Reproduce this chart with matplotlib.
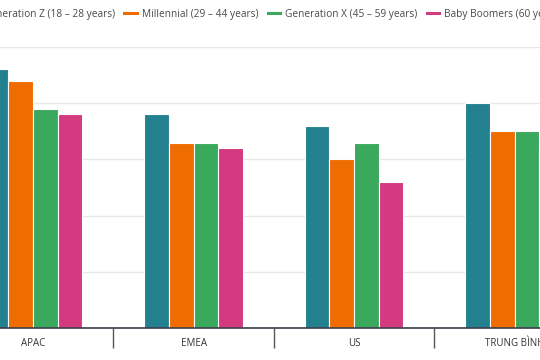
import matplotlib
matplotlib.use("Agg")
import matplotlib.pyplot as plt
from matplotlib.lines import Line2D
import numpy as np

plt.rcParams['font.family'] = ['Open Sans', 'DejaVu Sans']

categories = ["APAC", "EMEA", "US", "TRUNG BÌNH"]
series_names = ["Generation Z (18 – 28 years)", "Millennial (29 – 44 years)",
                "Generation X (45 – 59 years)", "Baby Boomers (60 years+)"]
gen_z = [46, 38, 36, 40]
millennial = [44, 33, 30, 35]
gen_x = [39, 33, 33, 35]
boomers = [38, 32, 26, 32]
colors = ["#23808F", "#EF6C00", "#3AA85D", "#D43A80"]

values = [gen_z, millennial, gen_x, boomers]

fig = plt.figure(figsize=(5.4, 3.6), dpi=100)
ax = fig.add_axes([0, 32/360, 1, (328-47)/360])

x = np.arange(len(categories))
w = 0.154
for i, (vals, col) in enumerate(zip(values, colors)):
    ax.bar(x + (i - 1.5) * w, vals, width=w, color=col, edgecolor="white",
           linewidth=0.8, zorder=3)

ax.set_xlim(-33/160.5, -33/160.5 + 540/160.5)
ax.set_ylim(0, 50)
ax.set_yticks([0, 10, 20, 30, 40, 50])
ax.yaxis.grid(True, color="#e8e8e8", linewidth=1, zorder=0)
ax.tick_params(axis='y', left=False, labelleft=False)
for s in ["left", "right", "top"]:
    ax.spines[s].set_visible(False)
ax.spines["bottom"].set_color("#3c3c4a")
ax.spines["bottom"].set_linewidth(1.2)
ax.spines["bottom"].set_zorder(5)

ax.set_xticks(x)
ax.set_xticklabels(categories, fontsize=7, color="#333333")
ax.tick_params(axis='x', length=0, pad=7)
ax.set_xticks(x[:-1] + 0.5, minor=True)
ax.tick_params(axis='x', which='minor', length=14.4, width=1, color="#555555")

handles = [Line2D([], [], color=c, lw=2.2) for c in colors]
leg = fig.legend(handles, series_names, ncol=4, loc="center left",
                 bbox_to_anchor=(-0.081, 1 - 14/360), frameon=False,
                 fontsize=7.3, handlelength=1.2, handletextpad=0.5,
                 columnspacing=0.95, labelcolor="#4a4a4a")

fig.savefig("out.png", dpi=100)
